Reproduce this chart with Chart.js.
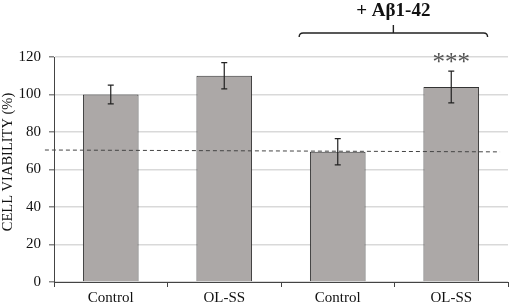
<!DOCTYPE html>
<html>
<head>
<meta charset="utf-8">
<script src="https://cdn.jsdelivr.net/npm/chart.js@4.4.1/dist/chart.umd.min.js"></script>
<style>
  html, body { margin: 0; padding: 0; background: #fff; }
  #wrap { width: 510px; height: 308px; position: relative; }
</style>
</head>
<body>
<div id="wrap"><canvas id="chart_cv"></canvas></div>
<script>
// values
const categories = ["Control", "OL-SS", "Control", "OL-SS"];
const viability = [100, 110, 69.5, 104];
const errors = [5, 7, 7, 8.5];
const yTickStep = 20;
const yMax = 120;
// dashed reference line (slightly slanted in the original)
const refLine = [70.4, 69.4];
const groupLabel = "+ A\u03b21-42";
const yTitle = "CELL VIABILITY (%)";
const signif = "***";
const signifIndex = 3;

const serif = "'Liberation Serif', 'DejaVu Serif', serif";

// error bars, dashed line, bracket, stars, axis title
const extras = {
  id: "extras",
  afterDatasetsDraw(chart) {
    const ctx = chart.ctx;
    const x = chart.scales.x;
    const y = chart.scales.y;

    // error bars
    ctx.save();
    ctx.strokeStyle = "#222";
    ctx.lineWidth = 1.2;
    viability.forEach((v, i) => {
      const cx = x.getPixelForValue(i);
      const top = y.getPixelForValue(v + errors[i]);
      const bot = y.getPixelForValue(v - errors[i]);
      ctx.beginPath();
      ctx.moveTo(cx, top); ctx.lineTo(cx, bot);
      ctx.moveTo(cx - 3, top); ctx.lineTo(cx + 3, top);
      ctx.moveTo(cx - 3, bot); ctx.lineTo(cx + 3, bot);
      ctx.stroke();
    });
    ctx.restore();

    // dashed line
    ctx.save();
    ctx.strokeStyle = "#444";
    ctx.lineWidth = 1;
    ctx.setLineDash([4, 3]);
    ctx.beginPath();
    ctx.moveTo(x.getPixelForValue(-0.58), y.getPixelForValue(refLine[0]));
    ctx.lineTo(x.getPixelForValue(3.43), y.getPixelForValue(refLine[1]));
    ctx.stroke();
    ctx.restore();

    // bracket over the last two groups
    const x1 = x.getPixelForValue(1.66);
    const x2 = x.getPixelForValue(3.32);
    const xc = (x1 + x2) / 2;
    const by = 33;
    ctx.save();
    ctx.strokeStyle = "#222";
    ctx.lineWidth = 1.4;
    ctx.beginPath();
    ctx.moveTo(x1, by + 4);
    ctx.quadraticCurveTo(x1, by, x1 + 4, by);
    ctx.lineTo(x2 - 4, by);
    ctx.quadraticCurveTo(x2, by, x2, by + 4);
    ctx.moveTo(xc, by);
    ctx.lineTo(xc, by - 8);
    ctx.stroke();
    ctx.fillStyle = "#111";
    ctx.font = "bold 19px " + serif;
    ctx.textAlign = "center";
    ctx.textBaseline = "middle";
    ctx.fillText(groupLabel, xc, 11);
    ctx.restore();

    // significance stars
    ctx.save();
    ctx.fillStyle = "#555";
    ctx.font = "25px " + serif;
    ctx.textAlign = "center";
    ctx.textBaseline = "middle";
    const sx = x.getPixelForValue(signifIndex);
    const sy = y.getPixelForValue(viability[signifIndex] + errors[signifIndex]) - 8;
    ctx.fillText(signif, sx, sy);
    ctx.restore();

    // y axis title
    ctx.save();
    ctx.fillStyle = "#111";
    ctx.font = "14.5px " + serif;
    ctx.textAlign = "center";
    ctx.textBaseline = "middle";
    ctx.translate(8, y.getPixelForValue(64));
    ctx.rotate(-Math.PI / 2);
    ctx.fillText(yTitle, 0, 0);
    ctx.restore();
  },
};

const ctxCv = document.getElementById("chart_cv").getContext("2d");
new Chart(ctxCv, {
  type: "bar",
  data: {
    labels: categories,
    datasets: [
      {
        data: viability,
        backgroundColor: "#aca8a7",
        borderColor: "#333",
        borderWidth: 1,
        barPercentage: 0.49,
        categoryPercentage: 1,
      },
    ],
  },
  options: {
    responsive: true,
    maintainAspectRatio: false,
    animation: false,
    layout: {
      padding: { top: 57, right: 2, left: 0, bottom: 0 },
    },
    plugins: {
      legend: { display: false },
      tooltip: { enabled: false },
    },
    scales: {
      x: {
        afterFit: (s) => { s.height = 26; },
        grid: {
          offset: true,
          drawOnChartArea: false,
          drawTicks: true,
          tickLength: 5,
          tickColor: "#444",
        },
        border: { color: "#444", width: 1 },
        ticks: {
          color: "#111",
          font: { family: serif, size: 15 },
          padding: 2,
        },
      },
      y: {
        min: 0,
        max: yMax,
        afterFit: (s) => { s.width = 54; },
        grid: {
          color: "#d9d9d9",
          lineWidth: 1.5,
          tickLength: 5,
          tickColor: "#888",
        },
        border: { color: "#444", width: 1 },
        ticks: {
          stepSize: yTickStep,
          color: "#111",
          font: { family: serif, size: 15 },
          padding: 8,
        },
      },
    },
  },
  plugins: [extras],
});
</script>
</body>
</html>
